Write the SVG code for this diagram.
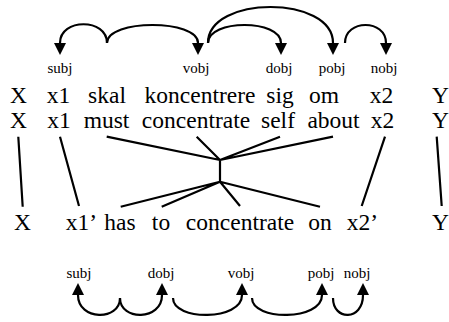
<svg xmlns="http://www.w3.org/2000/svg" width="449" height="322" viewBox="0 0 449 322" font-family="'Liberation Serif', 'DejaVu Serif', serif">
<style>
text{font-family:'Liberation Serif','DejaVu Serif',serif;fill:#000;text-anchor:middle}
.w{font-size:23.5px}
.l{font-size:15px}
.c{fill:none;stroke:#000;stroke-width:2.2}
.a{fill:none;stroke:#000;stroke-width:2.2;marker-end:url(#ah)}
</style>
<defs>
<marker id="ah" markerUnits="userSpaceOnUse" viewBox="0 0 12 12" refX="0" refY="6" markerWidth="12" markerHeight="12" orient="auto">
<path d="M0,0 L12,6 L0,12 z" fill="#000"/>
</marker>
</defs>
<rect width="449" height="322" fill="#fff"/>
<g id="row1">
<text class="w" x="18.5" y="102.5">X</text>
<text class="w" x="58.5" y="102.5">x1</text>
<text class="w" x="107" y="102.5">skal</text>
<text class="w" x="200" y="102.5">koncentrere</text>
<text class="w" x="280" y="102.5">sig</text>
<text class="w" x="324" y="102.5">om</text>
<text class="w" x="381.5" y="102.5">x2</text>
<text class="w" x="440.5" y="102.5">Y</text>
</g>
<g id="row2">
<text class="w" x="18.5" y="127.5">X</text>
<text class="w" x="59" y="127.5">x1</text>
<text class="w" x="106.5" y="127.5">must</text>
<text class="w" x="196" y="127.5">concentrate</text>
<text class="w" x="278" y="127.5">self</text>
<text class="w" x="333.5" y="127.5">about</text>
<text class="w" x="382.5" y="127.5">x2</text>
<text class="w" x="440.5" y="127.5">Y</text>
</g>
<g id="row3">
<text class="w" x="22.5" y="230">X</text>
<text class="w" x="81.5" y="230">x1’</text>
<text class="w" x="120" y="230">has</text>
<text class="w" x="161" y="230">to</text>
<text class="w" x="240" y="230">concentrate</text>
<text class="w" x="320" y="230">on</text>
<text class="w" x="362.5" y="230">x2’</text>
<text class="w" x="440.5" y="230">Y</text>
</g>
<g id="top-labels">
<text class="l" x="60" y="73">subj</text>
<text class="l" x="196" y="73">vobj</text>
<text class="l" x="279" y="73">dobj</text>
<text class="l" x="332" y="73">pobj</text>
<text class="l" x="384" y="73">nobj</text>
</g>
<g id="bottom-labels">
<text class="l" x="79" y="278">subj</text>
<text class="l" x="161" y="278">dobj</text>
<text class="l" x="241" y="278">vobj</text>
<text class="l" x="321" y="278">pobj</text>
<text class="l" x="357" y="278">nobj</text>
</g>
<g id="connectors">
<path class="a" d="M107,43 C107,18 60,18 60,43"/>
<path class="a" d="M107,43 C107,19 198,19 198,43"/>
<path class="a" d="M208,43 C208,19 281,19 281,43"/>
<path class="a" d="M208,43 C208,-5 333,-5 333,43"/>
<path class="a" d="M345,43 C345,19 386,19 386,43"/>
<path class="c" d="M18.3,136.7 L22.7,206.7 M60,136.7 L79,206 M106.7,136.7 L220,160 M196.7,136.7 L220,160 M280,136.7 L220,160 M333,136.7 L220,160 M385,136.7 L361.7,206 M436.7,136.7 L441.7,206 M220,160 L220,181.7 M220,181.7 L120.7,206.7 M220,181.7 L161.7,206.7 M220,181.7 L240,206 M220,181.7 L320,206.7"/>
<path class="a" d="M120,298 C120,321 78,321 78,295"/>
<path class="a" d="M120,298 C120,321 162,321 162,295"/>
<path class="a" d="M173,298 C173,321 242,321 242,295"/>
<path class="a" d="M252,298 C252,321 322,321 322,295"/>
<path class="a" d="M333,298 C333,321 363,321 363,295"/>
</g>
</svg>
